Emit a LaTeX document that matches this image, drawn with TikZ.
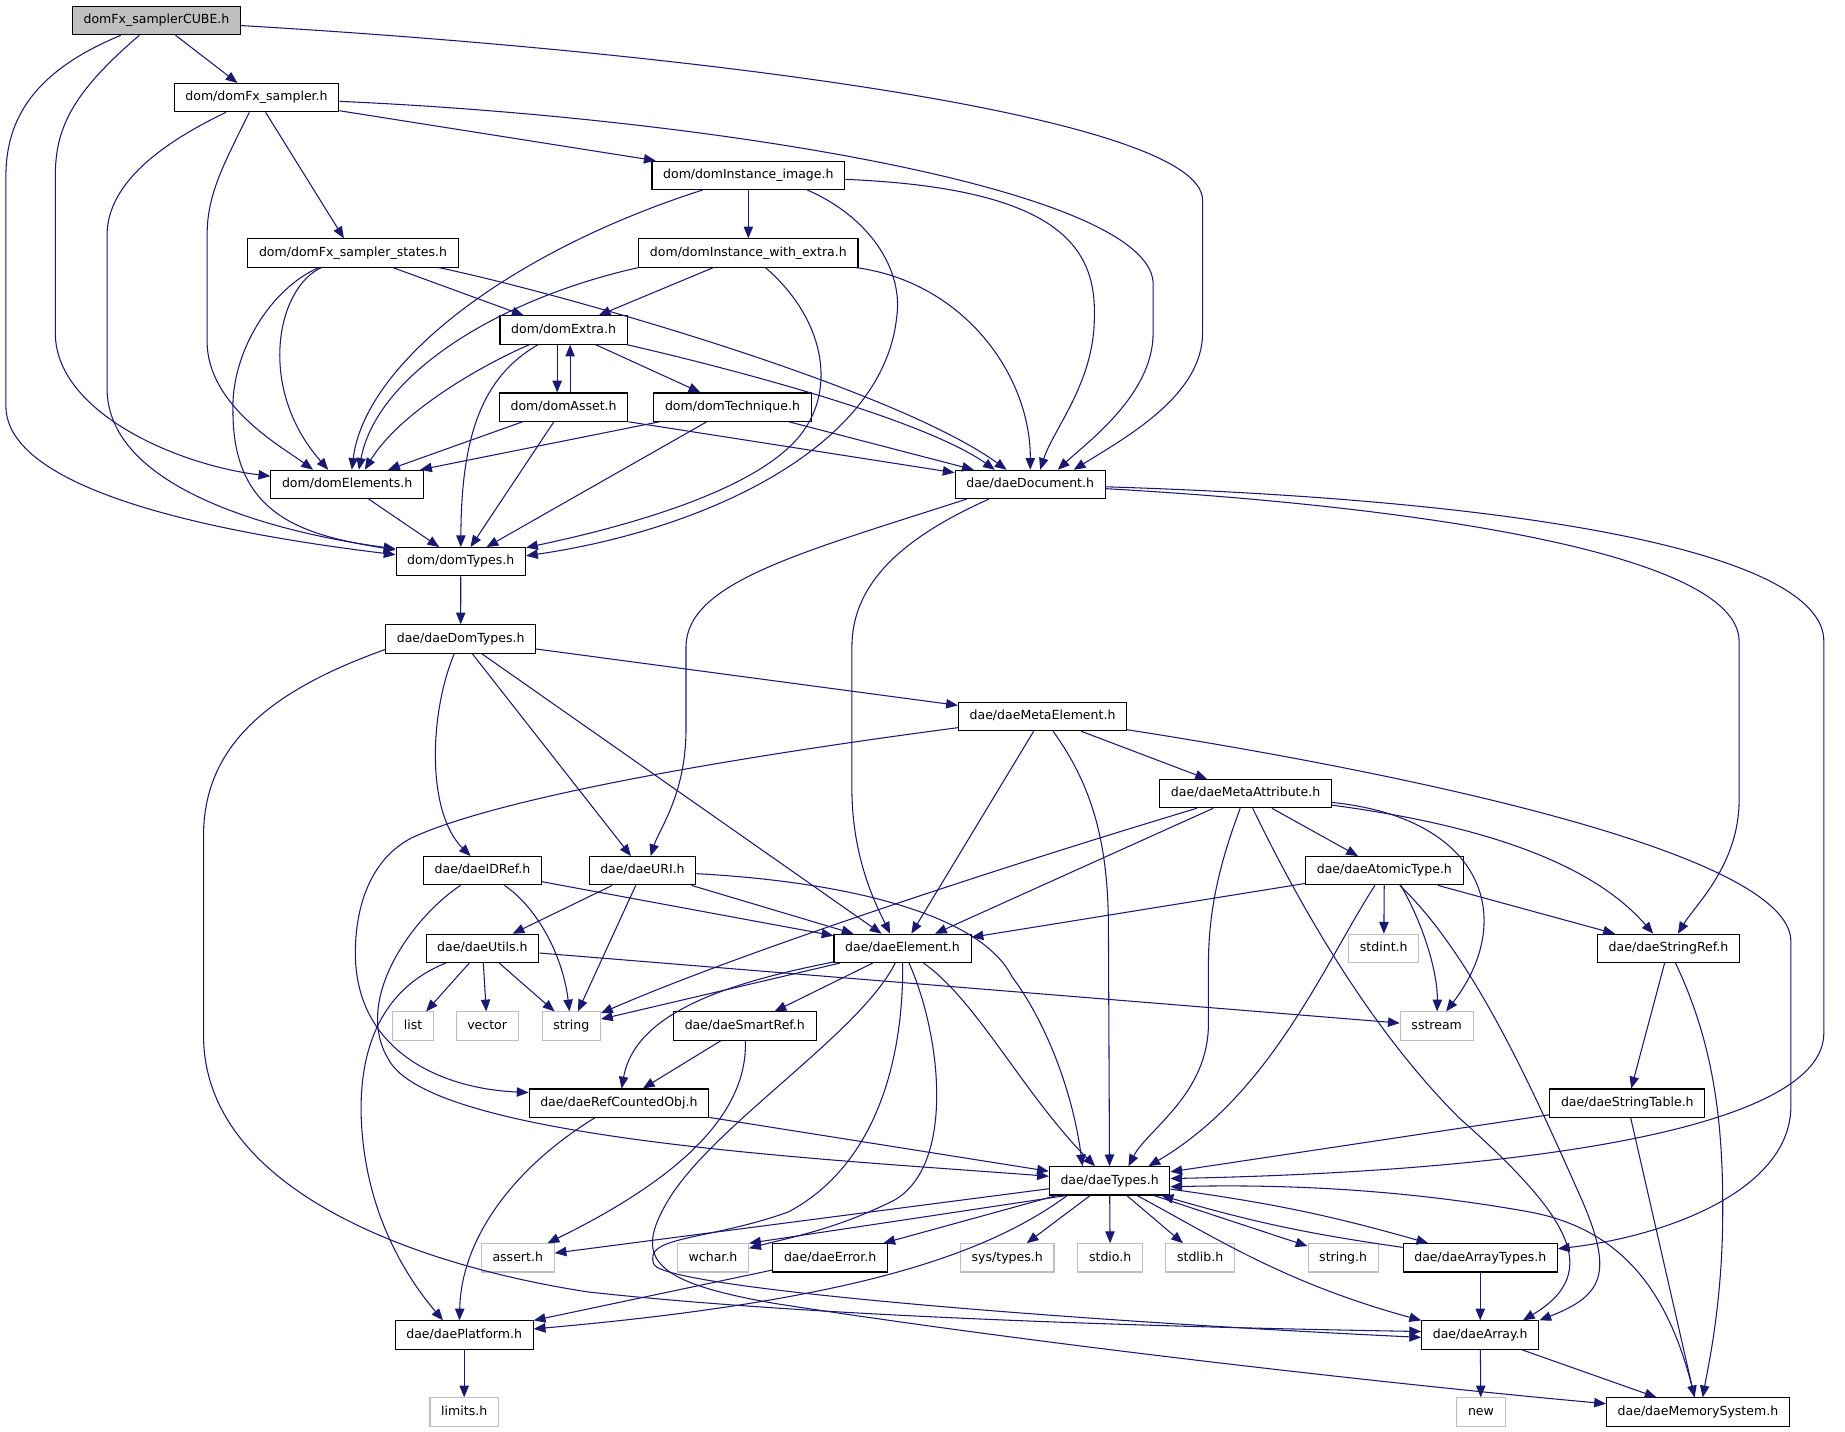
\documentclass[tikz,border=0pt]{standalone}
\usepackage{fontspec}
\setmainfont{DejaVu Sans}
\usetikzlibrary{arrows.meta}
\definecolor{edgeblue}{HTML}{191970}
\definecolor{boxgray}{HTML}{BFBFBF}

\begin{document}
\begin{tikzpicture}[x=1pt, y=-1pt,
  hdr/.style={draw=black, line width=0.9pt, fill=white, minimum height=24pt,
    inner xsep=9.5pt, inner ysep=0pt, text height=8pt, text depth=2.5pt,
    font=\fontsize{10.65pt}{12pt}\selectfont},
  syshdr/.style={hdr, draw=boxgray},
  mainhdr/.style={hdr, fill=boxgray},
  incl/.style={draw=edgeblue, line width=0.9pt, -{Triangle[length=10pt,width=8pt]}}]
  \useasboundingbox (0,0) rectangle (1568,1217);

  % Header boxes, row by row
  \node[mainhdr] (cube) at (133,17.5) {domFx\_samplerCUBE.h};
  \node[hdr] (fxsampler) at (218,83) {dom/domFx\_sampler.h};
  \node[hdr] (instimage) at (636,149) {dom/domInstance\_image.h};
  \node[hdr] (fxstates) at (300,215) {dom/domFx\_sampler\_states.h};
  \node[hdr] (instextra) at (636,215) {dom/domInstance\_with\_extra.h};
  \node[hdr] (domextra) at (479,280.5) {dom/domExtra.h};
  \node[hdr] (domasset) at (479,346) {dom/domAsset.h};
  \node[hdr] (domtech) at (622.5,346) {dom/domTechnique.h};
  \node[hdr] (domelems) at (295,411.7) {dom/domElements.h};
  \node[hdr] (daedoc) at (875.5,411.7) {dae/daeDocument.h};
  \node[hdr] (domtypes) at (391.6,477.4) {dom/domTypes.h};
  \node[hdr] (daedomtypes) at (391.5,543) {dae/daeDomTypes.h};
  \node[hdr] (metaelem) at (886,609) {dae/daeMetaElement.h};
  \node[hdr] (metaattr) at (1058.6,674.5) {dae/daeMetaAttribute.h};
  \node[hdr] (idref) at (410,740) {dae/daeIDRef.h};
  \node[hdr] (uri) at (546,740) {dae/daeURI.h};
  \node[hdr] (atomic) at (1176.5,740) {dae/daeAtomicType.h};
  \node[hdr] (utils) at (410,806) {dae/daeUtils.h};
  \node[hdr] (element) at (767,806) {dae/daeElement.h};
  \node[syshdr] (stdint) at (1176,806) {stdint.h};
  \node[hdr] (stringref) at (1418,806) {dae/daeStringRef.h};
  \node[syshdr] (list) at (351,872) {list};
  \node[syshdr] (vector) at (414,872) {vector};
  \node[syshdr] (string) at (485.5,872) {string};
  \node[syshdr] (sstream) at (1221,872) {sstream};
  \node[hdr] (smartref) at (633,872) {dae/daeSmartRef.h};
  \node[hdr] (refcounted) at (526,937.5) {dae/daeRefCountedObj.h};
  \node[hdr] (stringtable) at (1383,937.5) {dae/daeStringTable.h};
  \node[hdr] (daetypes) at (943,1003.6) {dae/daeTypes.h};
  \node[syshdr] (assert) at (440,1069) {assert.h};
  \node[syshdr] (wchar) at (606,1069) {wchar.h};
  \node[hdr] (daeerror) at (705.5,1069) {dae/daeError.h};
  \node[syshdr] (systypes) at (856,1069) {sys/types.h};
  \node[syshdr] (stdio) at (943.5,1069) {stdio.h};
  \node[syshdr] (stdlib) at (1020,1069) {stdlib.h};
  \node[syshdr] (stringh) at (1141.5,1069) {string.h};
  \node[hdr] (arraytypes) at (1258,1069) {dae/daeArrayTypes.h};
  \node[hdr] (platform) at (394.5,1134.6) {dae/daePlatform.h};
  \node[hdr] (daearray) at (1258,1134.6) {dae/daeArray.h};
  \node[syshdr] (limits) at (394.5,1200) {limits.h};
  \node[syshdr] (new) at (1258.6,1200) {new};
  \node[hdr] (memsys) at (1443,1200) {dae/daeMemorySystem.h};

  % Straight includes
  \foreach \a/\b in {cube/fxsampler, fxsampler/instimage, fxsampler/fxstates,
      instimage/instextra, fxstates/domextra, instextra/domextra, domextra/domtech,
      domasset/domelems, domasset/domtypes, domtech/domelems, domtech/domtypes,
      domtech/daedoc, domelems/domtypes, domtypes/daedomtypes, daedomtypes/metaelem,
      daedomtypes/uri, daedomtypes/element, metaelem/element, metaelem/metaattr,
      metaattr/element, metaattr/atomic, idref/element, uri/utils, uri/string,
      uri/element, atomic/element, atomic/stdint, atomic/stringref, utils/list,
      utils/vector, utils/string, utils/sstream, element/string, element/smartref,
      stringref/stringtable, smartref/refcounted, refcounted/daetypes,
      stringtable/daetypes, stringtable/memsys, daetypes/assert, daetypes/daeerror,
      daetypes/systypes, daetypes/stdio, daetypes/stdlib, daetypes/stringh,
      arraytypes/daearray, daearray/new, daearray/memsys, daeerror/platform,
      platform/limits}
    \draw[incl] (\a) -- (\b);

  % Top part: the sampler headers
  \draw[incl] (cube) .. controls (600,45) and (1022,100) .. (1022,170) -- (1022,283)
    .. controls (1022,335) and (960,370) .. ([xshift=37pt]daedoc.north);
  \draw[incl] (cube) .. controls (60,80) and (47,110) .. (47,150) -- (47,283)
    .. controls (47,350) and (150,395) .. ([yshift=7pt]domelems.west);
  \draw[incl] (cube) .. controls (30,60) and (5,100) .. (5,150) -- (5,345)
    .. controls (5,420) and (200,455) .. ([yshift=6pt]domtypes.west);
  \draw[incl] (fxsampler) .. controls (600,100) and (975,160) .. (980,240) -- (980,283)
    .. controls (980,335) and (925,375) .. ([xshift=23.5pt]daedoc.north);
  \draw[incl] (fxsampler) .. controls (190,140) and (176,165) .. (176,200) -- (176,290)
    .. controls (176,345) and (240,380) .. ([xshift=-29pt]domelems.north);
  \draw[incl] (fxsampler) .. controls (120,130) and (91,165) .. (91,200) -- (91,330)
    .. controls (91,420) and (250,455) .. ([yshift=11pt]domtypes.west);
  \draw[incl] (instimage) .. controls (430,215) and (310,310) .. ([xshift=4pt]domelems.north);
  \draw[incl] (instimage) .. controls (900,160) and (932,210) .. (930,270)
    .. controls (930,325) and (895,365) .. ([xshift=8.5pt]daedoc.north);
  \draw[incl] ([xshift=50pt]instimage.south) .. controls (740,185) and (768,230) .. (762,270)
    .. controls (750,380) and (600,450) .. ([yshift=5pt]domtypes.east);
  \draw[incl] ([xshift=73pt]fxstates.south) .. controls (480,250) and (760,330) .. ([xshift=-20pt]daedoc.north);
  \draw[incl] (fxstates) .. controls (235,245) and (218,330) .. ([xshift=-16pt]domelems.north);
  \draw[incl] (fxstates) .. controls (230,245) and (196,300) .. (198,350)
    .. controls (198,440) and (260,455) .. ([yshift=10pt]domtypes.west);
  \draw[incl] (instextra.south west) .. controls (420,255) and (320,320) .. ([xshift=10pt]domelems.north);
  \draw[incl] (instextra) .. controls (820,240) and (876,320) .. (daedoc);
  \draw[incl] (instextra) .. controls (700,270) and (712,330) .. (680,370)
    .. controls (640,420) and (520,450) .. ([yshift=12pt]domtypes.east);

  % The dom headers around domExtra.h
  \draw[incl] ([xshift=-5.5pt]domextra.south) -- ([xshift=-5.5pt]domasset.north);
  \draw[incl] ([xshift=5.5pt]domasset.north) -- ([xshift=5.5pt]domextra.south);
  \draw[incl] (domextra) .. controls (410,310) and (340,350) .. ([xshift=15pt]domelems.north);
  \draw[incl] (domextra) .. controls (410,320) and (392,370) .. (domtypes);
  \draw[incl] (domextra) .. controls (650,320) and (790,360) .. ([xshift=-30pt]daedoc.north);
  \draw[incl] (domasset.south east) -- (daedoc);

  % daeDocument.h
  \draw[incl] ([xshift=-54pt]daedoc.south) .. controls (680,470) and (583,495) .. (583,550) -- (583,620)
    .. controls (583,675) and (560,705) .. ([xshift=7pt]uri.north);
  \draw[incl] ([xshift=-35pt]daedoc.south) .. controls (760,460) and (724,500) .. (724,550) -- (724,670)
    .. controls (724,730) and (745,770) .. ([xshift=-10.5pt]element.north);
  \draw[incl] (daedoc) .. controls (1200,430) and (1478,470) .. (1478,545) -- (1478,680)
    .. controls (1478,735) and (1440,770) .. ([xshift=8pt]stringref.north);
  \draw[incl] (daedoc) .. controls (1300,425) and (1550,470) .. (1550,545) -- (1550,878)
    .. controls (1550,955) and (1320,995) .. ([yshift=2pt]daetypes.east);

  % daeDomTypes.h and daeMetaElement.h
  \draw[incl] (daedomtypes) .. controls (365,605) and (362,690) .. ([xshift=-10pt]idref.north);
  \draw[incl] ([yshift=-9pt]daedomtypes.west) .. controls (235,585) and (173,630) .. (173,710) -- (173,880)
    .. controls (173,1010) and (350,1075) .. (500,1098)
    .. controls (700,1120) and (1000,1128) .. ([yshift=3pt]daearray.west);
  \draw[incl] (metaelem) .. controls (650,640) and (430,675) .. (350,712)
    .. controls (315,730) and (302,770) .. (302,810)
    .. controls (302,890) and (370,925) .. ([yshift=9pt]refcounted.west);
  \draw[incl] (metaelem) .. controls (930,670) and (942,720) .. (942,790) -- (daetypes);
  \draw[incl] (metaelem) .. controls (1150,650) and (1522,720) .. (1522,800) -- (1522,940)
    .. controls (1522,1010) and (1420,1050) .. (arraytypes);

  % daeMetaAttribute.h
  \draw[incl] (metaattr) .. controls (880,728) and (640,805) .. (string);
  \draw[incl] (metaattr) .. controls (1038,730) and (1027,770) .. (1027,820) -- (1027,870)
    .. controls (1027,930) and (975,960) .. ([xshift=16pt]daetypes.north);
  \draw[incl] (metaattr) .. controls (1100,760) and (1160,870) .. (1240,950)
    .. controls (1330,1030) and (1365,1080) .. ([xshift=-14pt]daearray.north east);
  \draw[incl] (metaattr) .. controls (1260,695) and (1290,780) .. ([xshift=8pt]sstream.north);
  \draw[incl] (metaattr) .. controls (1250,700) and (1350,730) .. ([xshift=-13pt]stringref.north);

  % daeIDRef.h, daeURI.h, daeAtomicType.h, daeUtils.h
  \draw[incl] (idref) .. controls (455,770) and (478,810) .. (string);
  \draw[incl] (idref) .. controls (350,780) and (300,850) .. (330,900)
    .. controls (365,968) and (700,985) .. (daetypes);
  \draw[incl] (uri) .. controls (730,750) and (835,780) .. (860,830)
    .. controls (890,870) and (912,930) .. ([xshift=-23pt]daetypes.north);
  \draw[incl] ([xshift=14pt]atomic.south) .. controls (1212,790) and (1222,830) .. (sstream);
  \draw[incl] (atomic) .. controls (1125,820) and (1080,930) .. ([xshift=33pt]daetypes.north);
  \draw[incl] (atomic) .. controls (1250,810) and (1300,920) .. (1340,1010)
    .. controls (1372,1080) and (1365,1100) .. (daearray.north east);
  \draw[incl] (utils) .. controls (325,840) and (305,890) .. (307,950)
    .. controls (310,1030) and (345,1085) .. ([xshift=-18pt]platform.north);

  % daeElement.h
  \draw[incl] (element) .. controls (620,835) and (540,860) .. (refcounted);
  \draw[incl] (element) .. controls (830,850) and (870,930) .. (daetypes);
  \draw[incl] (element) .. controls (800,880) and (812,990) .. (760,1020)
    .. controls (710,1045) and (670,1052) .. (wchar);
  \draw[incl] (element) .. controls (768,900) and (745,990) .. (670,1030)
    .. controls (600,1055) and (545,1050) .. (556,1075)
    .. controls (570,1095) and (900,1122) .. ([yshift=-2pt]daearray.west);
  \draw[incl] (element) .. controls (730,880) and (600,960) .. (565,1025)
    .. controls (540,1070) and (555,1090) .. (660,1108)
    .. controls (900,1145) and (1200,1178) .. (memsys);

  % Lower part
  \draw[incl] (stringref) .. controls (1458,890) and (1465,960) .. (1464,1040)
    .. controls (1463,1110) and (1452,1160) .. ([xshift=4pt]memsys.north);
  \draw[incl] (smartref) .. controls (636,955) and (560,1010) .. (assert);
  \draw[incl] (refcounted) .. controls (440,990) and (392,1050) .. ([xshift=-4pt]platform.north);
  \draw[incl] ([xshift=-37pt]daetypes.south) -- (wchar.north east);
  \draw[incl] (daetypes) to[bend left=4] (arraytypes);
  \draw[incl] (arraytypes) to[bend left=4] (daetypes);
  \draw[incl] (daetypes) .. controls (1030,1050) and (1090,1090) .. (daearray.north west);
  \draw[incl] ([xshift=-36pt]daetypes.south) .. controls (840,1065) and (730,1105) .. (platform);
  \draw[incl] (memsys) .. controls (1420,1100) and (1380,1045) .. (1300,1030)
    .. controls (1200,1012) and (1100,1006) .. ([yshift=-5pt]daetypes.east);
\end{tikzpicture}
\end{document}
